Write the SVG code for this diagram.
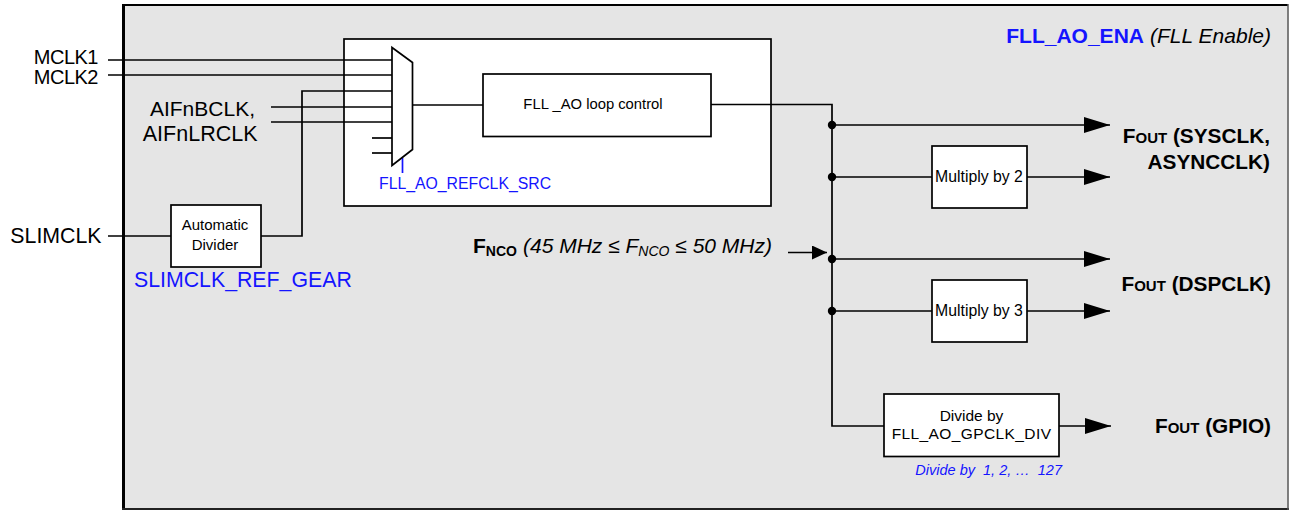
<svg xmlns="http://www.w3.org/2000/svg" width="1289" height="510" viewBox="0 0 1289 510">
<defs>
<style>
.ln{stroke:#000;stroke-width:1.7;fill:none}
.bx{fill:#fff;stroke:#000;stroke-width:1.7}
.t{font-family:"Liberation Sans",Arial,sans-serif;fill:#000}
.b{font-weight:bold}
.blue{fill:#1414ff}
.i{font-style:italic}
</style>
<marker id="ah" viewBox="0 0 26 16" refX="26" refY="8" markerWidth="26" markerHeight="16" markerUnits="userSpaceOnUse" orient="auto">
<path d="M0,0 L26,8 L0,16 Z" fill="#000"/>
</marker>
<marker id="ahs" viewBox="0 0 15 14" refX="15" refY="7" markerWidth="15" markerHeight="14" markerUnits="userSpaceOnUse" orient="auto">
<path d="M0,0 L15,7 L0,14 Z" fill="#000"/>
</marker>
</defs>
<rect width="1289" height="510" fill="#fff"/>
<g id="frame">
<rect x="123.5" y="5" width="1164" height="503" fill="#e5e5e5"/>
<line x1="122" y1="5" x2="1288" y2="5" stroke="#000" stroke-width="2"/>
<line x1="123.5" y1="4" x2="123.5" y2="510" stroke="#000" stroke-width="3"/>
<line x1="122" y1="509" x2="1289" y2="509" stroke="#222" stroke-width="2"/>
<line x1="1288" y1="4" x2="1288" y2="510" stroke="#555" stroke-width="1.5"/>
<text class="t" x="1271" y="43" text-anchor="end" font-size="21"><tspan class="b blue">FLL_AO_ENA</tspan><tspan class="i" dx="6">(FLL Enable)</tspan></text>
</g>
<g id="fll-block">
<rect class="bx" x="344" y="39" width="427" height="167"/>
<text class="t blue" x="379" y="188.5" font-size="15.8">FLL_AO_REFCLK_SRC</text>
</g>
<g id="connectors">
<line class="ln" x1="108" y1="60" x2="392" y2="60"/>
<line class="ln" x1="108" y1="75" x2="392" y2="75"/>
<polyline class="ln" points="261,236 302,236 302,91 392,91"/>
<line class="ln" x1="271" y1="107" x2="392" y2="107"/>
<line class="ln" x1="271" y1="122" x2="392" y2="122"/>
<line class="ln" x1="372" y1="138" x2="392" y2="138"/>
<line class="ln" x1="372" y1="153" x2="392" y2="153"/>
<line class="ln" x1="108" y1="236" x2="171" y2="236"/>
<line class="ln" x1="412" y1="105" x2="483" y2="105"/>
<polyline class="ln" points="711,104.5 832,104.5 832,426 884,426"/>
<line x1="402.5" y1="158" x2="402.5" y2="173" stroke="#1414ff" stroke-width="1.7"/>
<line class="ln" x1="832" y1="125" x2="1110" y2="125" marker-end="url(#ah)"/>
<line class="ln" x1="832" y1="177" x2="932" y2="177"/>
<line class="ln" x1="1027" y1="177" x2="1110" y2="177" marker-end="url(#ah)"/>
<line class="ln" x1="832" y1="259" x2="1110" y2="259" marker-end="url(#ah)"/>
<line class="ln" x1="832" y1="311" x2="932" y2="311"/>
<line class="ln" x1="1027" y1="311" x2="1110" y2="311" marker-end="url(#ah)"/>
<line class="ln" x1="1059" y1="426" x2="1111" y2="426" marker-end="url(#ah)"/>
<line class="ln" x1="788" y1="252.5" x2="827" y2="252.5" marker-end="url(#ahs)"/>
<circle cx="832" cy="125" r="4.2"/>
<circle cx="832" cy="177" r="4.2"/>
<circle cx="832" cy="259" r="4.2"/>
<circle cx="832" cy="311" r="4.2"/>
</g>
<g id="inputs">
<text class="t" x="98" y="63.5" text-anchor="end" font-size="20" letter-spacing="-0.5">MCLK1</text>
<text class="t" x="98" y="84" text-anchor="end" font-size="20" letter-spacing="-0.5">MCLK2</text>
<text class="t" x="255" y="116" text-anchor="end" font-size="21">AIFnBCLK,</text>
<text class="t" x="257.5" y="140.5" text-anchor="end" font-size="21.5">AIFnLRCLK</text>
<text class="t" x="101.5" y="243" text-anchor="end" font-size="21.3">SLIMCLK</text>
</g>
<g id="mux">
<polygon class="bx" points="392,47.5 412.5,62.5 412.5,149.5 392,165.5"/>
</g>
<g id="auto-divider">
<rect class="bx" x="171" y="205" width="90" height="62"/>
<text class="t" x="215" y="230" text-anchor="middle" font-size="15">Automatic</text>
<text class="t" x="215" y="250" text-anchor="middle" font-size="15">Divider</text>
<text class="t blue" x="134" y="286.5" font-size="21.3">SLIMCLK_REF_GEAR</text>
</g>
<g id="loop-control">
<rect class="bx" x="483" y="74" width="228" height="62.5"/>
<text class="t" x="593" y="109" text-anchor="middle" font-size="14.8">FLL _AO loop control</text>
</g>
<g id="fnco">
<text class="t" x="473" y="253" font-size="21"><tspan class="b">F</tspan><tspan class="b" font-size="14" dy="3">NCO</tspan><tspan class="i" dy="-3" dx="6">(45 MHz ≤ F</tspan><tspan class="i" font-size="14" dy="3">NCO</tspan><tspan class="i" dy="-3"> ≤ 50 MHz)</tspan></text>
</g>
<g id="mul2">
<rect class="bx" x="932" y="146" width="95" height="62"/>
<text class="t" x="979" y="181.5" text-anchor="middle" font-size="15.8">Multiply by 2</text>
</g>
<g id="mul3">
<rect class="bx" x="932" y="280" width="95" height="62"/>
<text class="t" x="979" y="315.5" text-anchor="middle" font-size="15.8">Multiply by 3</text>
</g>
<g id="gpclk-div">
<rect class="bx" x="884" y="394" width="175" height="62.5"/>
<text class="t" x="971.5" y="421" text-anchor="middle" font-size="15.5">Divide by</text>
<text class="t" x="971.5" y="438.5" text-anchor="middle" font-size="15.5" letter-spacing="0.4">FLL_AO_GPCLK_DIV</text>
<text class="t blue i" x="1062" y="475" text-anchor="end" font-size="14.5" style="white-space:pre">Divide by  1, 2, …  127</text>
</g>
<g id="outputs">
<text class="t b" x="1270" y="143" text-anchor="end" font-size="20.8">F<tspan font-size="15">OUT</tspan> (SYSCLK,</text>
<text class="t b" x="1270" y="169" text-anchor="end" font-size="20.8">ASYNCCLK)</text>
<text class="t b" x="1271" y="291" text-anchor="end" font-size="20.8">F<tspan font-size="15">OUT</tspan> (DSPCLK)</text>
<text class="t b" x="1271" y="433" text-anchor="end" font-size="20.8">F<tspan font-size="15">OUT</tspan> (GPIO)</text>
</g>
</svg>
